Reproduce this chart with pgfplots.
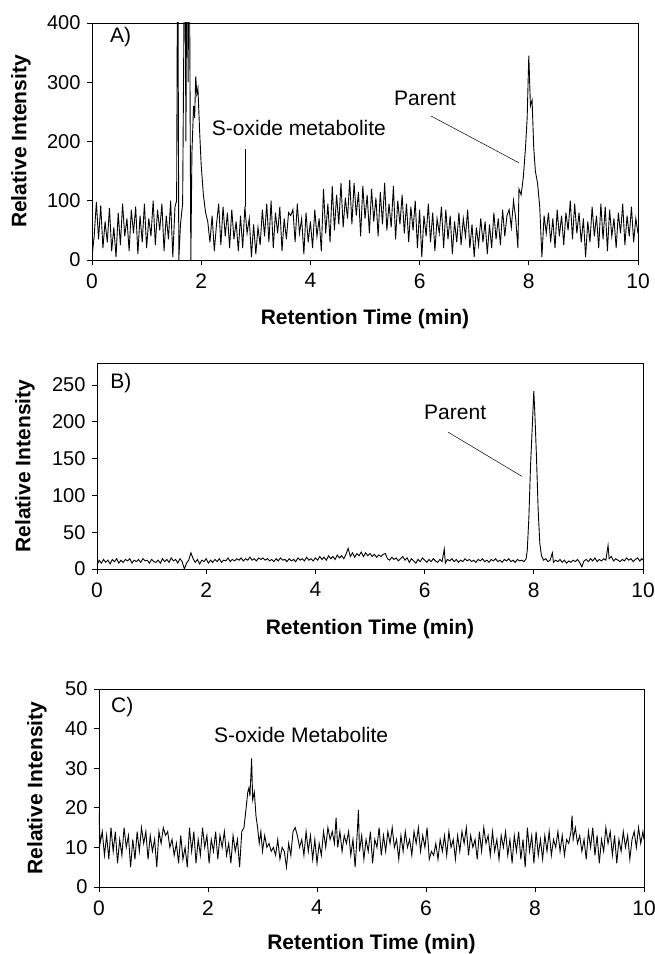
\documentclass[border=0pt]{standalone}
\usepackage{pgfplots}
\pgfplotsset{compat=1.18}
\usepackage{fontspec}
\setmainfont{Liberation Sans}
\tikzset{ann/.style={font=\fontsize{21}{24}\selectfont, inner sep=0pt}}
\pgfplotsset{
  common/.style={
    scale only axis, anchor=south west,
    xmin=0, xmax=10, xtick={0,2,4,6,8,10},
    tick align=outside, xtick pos=bottom, ytick pos=left,
    major tick length=5pt,
    axis line style={line width=0.8pt},
    every tick/.style={black, line width=0.8pt},
    /pgf/number format/assume math mode=true,
    /pgfplots/yticklabel style={font=\fontsize{20}{22}\selectfont, xshift=-3pt},
    /pgfplots/xticklabel style={font=\fontsize{21}{23}\selectfont, yshift=-5pt},
    /pgfplots/label style={font=\bfseries\fontsize{21}{24}\selectfont},
    /pgfplots/xlabel={Retention Time (min)}, /pgfplots/ylabel={Relative Intensity},
  },
  trace/.style={black, line width=0.9pt, no markers},
}
\begin{document}
\begin{tikzpicture}
\useasboundingbox (0pt,0pt) rectangle (654pt,954pt);
% ---------------- Panel A ----------------
\begin{axis}[common, at={(92pt,694pt)}, width=546pt, height=237pt,
  ymin=0, ymax=400, ytick={0,100,200,300,400},
  xlabel style={at={(axis description cs:0.5,-0.274)}, anchor=base},
  ylabel style={at={(axis description cs:-0.13,0.5)}, anchor=center}]
\addplot[trace] table {
0.00 5
0.04 40
0.08 98
0.12 35
0.16 92
0.20 20
0.24 65
0.28 30
0.32 88
0.36 15
0.40 55
0.44 5
0.48 80
0.52 25
0.56 95
0.60 40
0.64 70
0.68 15
0.72 85
0.76 45
0.80 90
0.84 10
0.88 75
0.92 30
0.96 95
1.00 20
1.04 70
1.08 40
1.12 100
1.16 25
1.20 85
1.24 50
1.28 95
1.32 15
1.36 75
1.40 35
1.44 100
1.48 5
1.52 90
1.55 100
1.57 600
1.59 0
1.62 60
1.66 95
1.70 600
1.72 200
1.74 600
1.76 300
1.78 600
1.81 0
1.83 180
1.86 260
1.88 240
1.90 310
1.92 280
1.94 290
1.97 220
2.00 160
2.04 110
2.08 80
2.12 65
2.16 30
2.20 75
2.24 15
2.28 60
2.32 95
2.36 25
2.40 90
2.44 40
2.48 80
2.52 20
2.56 85
2.60 35
2.64 65
2.68 15
2.72 75
2.76 20
2.80 90
2.84 45
2.88 70
2.92 5
2.96 60
3.00 10
3.04 55
3.08 25
3.12 85
3.16 40
3.20 95
3.24 30
3.28 100
3.32 20
3.36 80
3.40 45
3.44 90
3.48 15
3.52 70
3.56 35
3.60 80
3.64 75
3.68 85
3.72 30
3.76 95
3.80 45
3.84 70
3.88 10
3.92 80
3.96 30
4.00 65
4.04 20
4.08 85
4.12 40
4.16 70
4.20 15
4.24 120
4.28 45
4.32 95
4.36 30
4.40 125
4.44 50
4.48 110
4.52 60
4.56 130
4.60 55
4.64 105
4.68 70
4.72 135
4.76 60
4.80 130
4.84 75
4.88 115
4.92 40
4.96 125
5.00 70
5.04 110
5.08 45
5.12 120
5.16 65
5.20 105
5.24 40
5.28 115
5.32 60
5.36 130
5.40 50
5.44 95
5.48 55
5.52 125
5.56 35
5.60 100
5.64 60
5.68 110
5.72 45
5.76 95
5.80 30
5.84 90
5.88 50
5.92 100
5.96 20
6.00 85
6.04 5
6.08 75
6.12 40
6.16 95
6.20 30
6.24 80
6.28 15
6.32 70
6.36 45
6.40 90
6.44 20
6.48 85
6.52 35
6.56 75
6.60 10
6.64 65
6.68 30
6.72 80
6.76 25
6.80 70
6.84 40
6.88 85
6.92 20
6.96 60
7.00 5
7.04 55
7.08 25
7.12 70
7.16 30
7.20 65
7.24 10
7.28 60
7.32 20
7.36 80
7.40 35
7.44 70
7.48 25
7.52 85
7.56 40
7.60 75
7.64 85
7.68 55
7.72 100
7.76 70
7.80 20
7.82 120
7.86 110
7.90 140
7.94 190
7.97 240
8.00 345
8.03 260
8.06 270
8.09 190
8.12 150
8.16 130
8.20 90
8.24 5
8.28 75
8.32 45
8.36 80
8.40 30
8.44 70
8.48 20
8.52 85
8.56 40
8.60 75
8.64 25
8.68 80
8.72 50
8.76 100
8.80 35
8.84 95
8.88 45
8.92 80
8.96 30
9.00 70
9.04 5
9.08 65
9.12 30
9.16 90
9.20 40
9.24 75
9.28 20
9.32 95
9.36 35
9.40 90
9.44 15
9.48 85
9.52 40
9.56 70
9.60 20
9.64 80
9.68 45
9.72 95
9.76 25
9.80 75
9.84 40
9.88 90
9.92 30
9.96 70
10.00 45
};
\node[ann, anchor=west] at (axis cs:0.33,376) {A)};
\node[ann] at (axis cs:3.79,223) {S-oxide metabolite};
\draw[line width=0.5pt] (axis cs:2.80,187) -- (axis cs:2.80,90);
\node[ann] at (axis cs:6.10,272) {Parent};
\draw[line width=0.5pt] (axis cs:6.21,243) -- (axis cs:7.82,164);
\end{axis}
% ---------------- Panel B ----------------
\begin{axis}[common, at={(97pt,385pt)}, width=546pt, height=206pt,
  ymin=0, ymax=280, ytick={0,50,100,150,200,250},
  xlabel style={at={(axis description cs:0.5,-0.320)}, anchor=base},
  ylabel style={at={(axis description cs:-0.132,0.5)}, anchor=center}]
\addplot[trace] table {
0.00 5
0.04 12
0.08 8
0.12 13
0.16 9
0.20 12
0.24 7
0.28 13
0.32 10
0.36 14
0.40 8
0.44 12
0.48 9
0.52 13
0.56 11
0.60 14
0.64 8
0.68 12
0.72 10
0.76 13
0.80 9
0.84 14
0.88 11
0.92 12
0.96 8
1.00 13
1.04 10
1.08 9
1.12 12
1.16 8
1.20 14
1.24 10
1.28 13
1.32 9
1.36 15
1.40 11
1.44 13
1.48 8
1.52 14
1.56 10
1.60 0
1.64 8
1.68 12
1.72 22
1.76 14
1.80 9
1.84 13
1.88 7
1.92 12
1.96 10
2.00 14
2.04 8
2.08 12
2.12 9
2.16 13
2.20 10
2.24 14
2.28 9
2.32 12
2.36 11
2.40 15
2.44 10
2.48 13
2.52 11
2.56 14
2.60 12
2.64 15
2.68 11
2.72 14
2.76 12
2.80 16
2.84 12
2.88 14
2.92 11
2.96 15
3.00 13
3.04 15
3.08 12
3.12 14
3.16 11
3.20 13
3.24 10
3.28 14
3.32 11
3.36 15
3.40 12
3.44 13
3.48 10
3.52 14
3.56 11
3.60 13
3.64 10
3.68 15
3.72 12
3.76 14
3.80 11
3.84 16
3.88 12
3.92 14
3.96 11
4.00 15
4.04 12
4.08 17
4.12 13
4.16 16
4.20 12
4.24 18
4.28 14
4.32 17
4.36 13
4.40 19
4.44 15
4.48 18
4.52 14
4.56 20
4.60 28
4.64 17
4.68 22
4.72 16
4.76 21
4.80 18
4.84 23
4.88 17
4.92 22
4.96 18
5.00 21
5.04 17
5.08 20
5.12 16
5.16 19
5.20 17
5.24 20
5.28 21
5.32 14
5.36 12
5.40 16
5.44 13
5.48 15
5.52 11
5.56 14
5.60 17
5.64 12
5.68 15
5.72 9
5.76 14
5.80 11
5.84 8
5.88 13
5.92 10
5.96 15
6.00 12
6.04 9
6.08 13
6.12 10
6.16 14
6.20 11
6.24 9
6.28 13
6.32 10
6.36 27
6.38 8
6.42 13
6.46 11
6.50 14
6.54 10
6.58 13
6.62 9
6.66 12
6.70 10
6.74 14
6.78 11
6.82 13
6.86 10
6.90 12
6.94 9
6.98 13
7.02 11
7.06 14
7.10 10
7.14 12
7.18 9
7.22 13
7.26 11
7.30 14
7.34 10
7.38 12
7.42 9
7.46 13
7.50 11
7.54 14
7.58 10
7.62 12
7.66 9
7.70 13
7.74 11
7.78 12
7.82 10
7.86 14
7.88 25
7.91 70
7.94 140
7.97 190
8.00 242
8.02 210
8.05 150
8.08 80
8.11 35
8.14 18
8.18 12
8.22 14
8.26 10
8.30 12
8.34 22
8.36 9
8.40 12
8.44 10
8.48 13
8.52 9
8.56 12
8.60 8
8.64 11
8.68 9
8.72 12
8.76 10
8.80 13
8.84 9
8.88 3
8.92 11
8.96 13
9.00 10
9.04 14
9.08 11
9.12 15
9.16 10
9.20 13
9.24 11
9.28 14
9.32 12
9.36 32
9.38 14
9.42 17
9.46 11
9.50 14
9.54 12
9.58 10
9.62 13
9.66 11
9.70 15
9.74 12
9.78 14
9.82 10
9.86 13
9.90 15
9.94 11
9.98 14
10.00 12
};
\node[ann, anchor=west] at (axis cs:0.24,253) {B)};
\node[ann] at (axis cs:6.56,213) {Parent};
\draw[line width=0.5pt] (axis cs:6.43,186) -- (axis cs:7.78,126);
\end{axis}
% ---------------- Panel C ----------------
\begin{axis}[common, at={(99pt,67pt)}, width=545pt, height=198pt,
  ymin=0, ymax=50, ytick={0,10,20,30,40,50},
  xlabel style={at={(axis description cs:0.5,-0.318)}, anchor=base},
  ylabel style={at={(axis description cs:-0.114,0.5)}, anchor=center}]
\addplot[trace] table {
0.00 19
0.02 11
0.06 14
0.10 8
0.14 13
0.18 7
0.22 15
0.26 9
0.30 14
0.34 6
0.38 12
0.42 8
0.46 15
0.50 10
0.54 13
0.58 5
0.62 12
0.66 7
0.70 14
0.74 9
0.78 15
0.82 11
0.86 14
0.90 7
0.94 13
0.98 9
1.02 12
1.06 5
1.10 14
1.14 11
1.18 15
1.22 13
1.26 14
1.30 10
1.34 12
1.38 8
1.42 11
1.46 6
1.50 13
1.54 7
1.58 10
1.62 5
1.66 15
1.70 9
1.74 14
1.78 6
1.82 12
1.86 8
1.90 15
1.94 10
1.98 13
2.02 6
2.06 12
2.10 9
2.14 14
2.18 7
2.22 13
2.26 10
2.30 14
2.34 8
2.38 11
2.42 6
2.46 13
2.50 9
2.54 12
2.58 5
2.62 14
2.66 15
2.70 20
2.73 24
2.75 25
2.77 23
2.80 32.5
2.82 22
2.85 24
2.88 18
2.91 15
2.94 11
2.97 14
3.00 9
3.04 13
3.08 10
3.12 11
3.16 9
3.20 10
3.24 8
3.28 12
3.32 7
3.36 10
3.40 9
3.44 5
3.48 11
3.52 8
3.56 14
3.60 15
3.64 13
3.68 10
3.72 12
3.76 8
3.80 14
3.84 9
3.88 13
3.92 7
3.96 12
4.00 6
4.04 11
4.08 8
4.12 14
4.16 10
4.20 15
4.24 12
4.28 14
4.32 11
4.35 17.5
4.38 10
4.42 14
4.46 9
4.50 13
4.54 11
4.58 14
4.62 8
4.66 12
4.70 5
4.74 14
4.76 19.5
4.78 9
4.82 13
4.86 7
4.90 12
4.94 9
4.98 14
5.02 6
5.06 12
5.10 10
5.14 15
5.18 8
5.22 13
5.26 9
5.30 14
5.34 11
5.38 15
5.42 10
5.46 12
5.50 7
5.54 13
5.58 9
5.62 14
5.66 10
5.70 12
5.74 8
5.78 14
5.82 11
5.86 15
5.90 9
5.94 13
5.98 10
6.02 15
6.06 7
6.10 9
6.14 8
6.18 11
6.22 7
6.26 12
6.30 9
6.34 13
6.38 8
6.42 14
6.46 10
6.50 12
6.54 7
6.58 13
6.62 9
6.66 14
6.70 11
6.74 15
6.78 8
6.82 13
6.86 10
6.90 12
6.94 7
6.98 14
7.02 9
7.06 15
7.10 11
7.14 13
7.18 8
7.22 14
7.26 9
7.30 12
7.34 7
7.38 13
7.42 10
7.46 14
7.50 8
7.54 12
7.58 6
7.62 13
7.66 9
7.70 14
7.74 7
7.78 12
7.82 5
7.86 15
7.90 9
7.94 13
7.98 6
8.02 14
8.06 8
8.10 12
8.14 7
8.18 13
8.22 9
8.26 14
8.30 8
8.34 12
8.38 10
8.42 14
8.46 9
8.50 13
8.54 8
8.58 12
8.62 11
8.66 14
8.68 18
8.70 12
8.74 15
8.78 11
8.82 13
8.86 9
8.90 12
8.94 7
8.98 14
9.02 10
9.06 15
9.10 8
9.14 13
9.18 6
9.22 12
9.26 9
9.30 15
9.34 11
9.38 14
9.42 8
9.46 13
9.50 6
9.54 12
9.58 9
9.62 14
9.66 10
9.70 13
9.74 7
9.78 12
9.82 14
9.86 10
9.90 15
9.94 11
9.98 14
10.00 12
};
\node[ann, anchor=west] at (axis cs:0.22,45.5) {C)};
\node[ann] at (axis cs:3.71,38.4) {S-oxide Metabolite};
\end{axis}
\end{tikzpicture}
\end{document}
